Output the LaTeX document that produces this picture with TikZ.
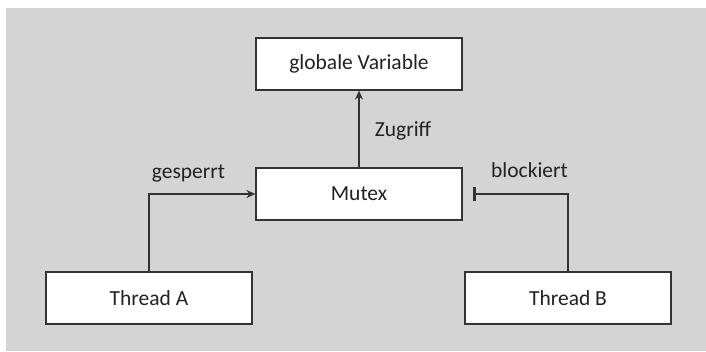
\documentclass[tikz,border=0pt]{standalone}
\usepackage{fontspec}
\setmainfont{Carlito}
\usetikzlibrary{arrows.meta}
\definecolor{bggray}{HTML}{D4D4D4}
\definecolor{linegray}{HTML}{333333}
\definecolor{txt}{HTML}{222222}
\begin{document}
\begin{tikzpicture}[x=1pt,y=1pt,
  box/.style={draw=linegray, line width=1.2pt, fill=white, minimum width=206pt, minimum height=52pt, inner sep=0pt, text=txt, font=\fontsize{21.5}{25}\selectfont},
  lbl/.style={anchor=base, text=txt, inner sep=0pt, font=\fontsize{21.5}{25}\selectfont},
  conn/.style={draw=linegray, line width=1.2pt},
  tip/.style={-{Stealth[length=9pt,width=8pt]}}]
\useasboundingbox (0,0) rectangle (706,-351);
\fill[bggray] (6,-8) rectangle (706,-351);
\node[box] (gv) at (359,-64) {globale Variable};
\node[box] (m) at (359,-194) {Mutex};
\node[box] (ta) at (149,-298) {Thread A};
\node[box] (tb) at (568,-298) {Thread B};
\coordinate (bar) at ([xshift=10pt]m.east);
\draw[conn,tip] (m.north) -- (gv.south);
\draw[conn,tip] (ta.north) |- (m.west);
\draw[conn,-{Bar[width=14pt,line width=3pt]}] (tb.north) |- (bar);
\node[lbl] (l1) at (188.5,-178) {gesperrt};
\node[lbl] (l2) at (529.5,-177) {blockiert};
\node[lbl] (l3) at (403,-136) {Zugriff};
\end{tikzpicture}
\end{document}
